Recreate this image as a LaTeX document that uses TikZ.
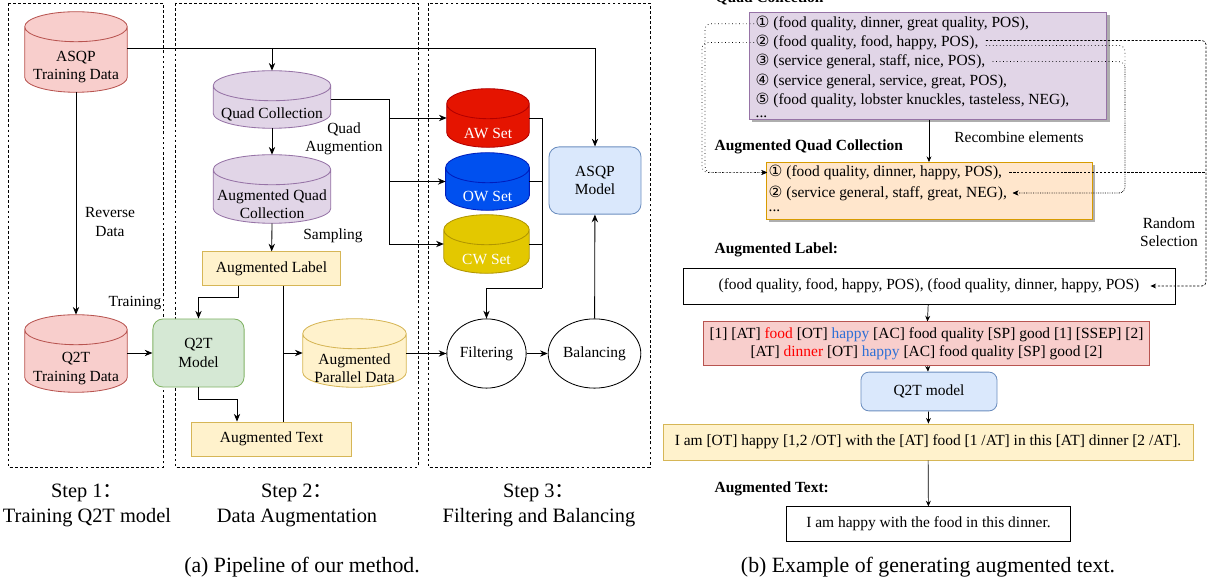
\documentclass[tikz,border=0pt]{standalone}
\usepackage{fontspec}
\setmainfont{Liberation Serif}
\newfontfamily\circfont{DejaVu Sans}
\newfontfamily\cjk{Noto Sans CJK SC}
\usetikzlibrary{arrows.meta,shapes.geometric,shadows,calc}

\definecolor{redfill}{HTML}{F8CECC}
\definecolor{redline}{HTML}{B85450}
\definecolor{purplefill}{HTML}{E1D5E7}
\definecolor{purpleline}{HTML}{9673A6}
\definecolor{yelfill}{HTML}{FFF2CC}
\definecolor{yelline}{HTML}{D6B656}
\definecolor{greenfill}{HTML}{D5E8D4}
\definecolor{greenline}{HTML}{82B366}
\definecolor{bluefill}{HTML}{DAE8FC}
\definecolor{blueline}{HTML}{6C8EBF}
\definecolor{orangefill}{HTML}{FFE6CC}
\definecolor{orangeline}{HTML}{D79B00}
\definecolor{awfill}{HTML}{E51400}
\definecolor{awline}{HTML}{B20000}
\definecolor{owfill}{HTML}{0050EF}
\definecolor{owline}{HTML}{001DBC}
\definecolor{cwfill}{HTML}{E3C800}
\definecolor{cwline}{HTML}{B09500}
\definecolor{optblue}{HTML}{2D6FD6}

\pgfdeclarelayer{background}
\pgfsetlayers{background,main}

\newcommand{\cnum}[1]{{\circfont #1}}
\newcommand{\stepcolon}{{\cjk ：}}
% cylinder drawn round a node that holds the body text
\newcommand{\dbcap}{0.375cm}
\newcommand{\drawdb}[3]{%
  \begin{pgfonlayer}{background}
    \path[fill=#2, draw=#3, line width=0.6pt]
      let \p1=(#1.north west), \p2=(#1.south east) in
      (\x1,{\y1+\dbcap}) -- (\x1,{\y2+\dbcap})
      arc[start angle=180, end angle=360, x radius={(\x2-\x1)/2}, y radius=\dbcap]
      -- (\x2,{\y1+\dbcap})
      arc[start angle=0, end angle=180, x radius={(\x2-\x1)/2}, y radius=\dbcap]
      -- cycle
      (\x1,{\y1+\dbcap})
      arc[start angle=180, end angle=360, x radius={(\x2-\x1)/2}, y radius=\dbcap];
  \end{pgfonlayer}}

\begin{document}
\begin{tikzpicture}[x=0.025cm, y=-0.025cm,
    >={Stealth[length=5.5pt,width=4.5pt]},
    every node/.style = {font=\fontsize{11}{13}\selectfont, inner sep=1pt},
    stepframe/.style  = {draw, dash pattern=on 2pt off 1.6pt, line width=0.6pt},
    db/.style         = {rectangle, align=center},
    setdb/.style      = {db, text=white},
    box/.style        = {rectangle, draw, line width=0.6pt, align=center},
    model/.style      = {box, rounded corners=0.25cm},
    stage/.style      = {ellipse, draw, line width=0.6pt},
    lbl/.style        = {align=center},
    conn/.style       = {line width=0.6pt, ->},
    steplbl/.style    = {align=center, font=\fontsize{14.5}{18}\selectfont},
    caption/.style    = {font=\fontsize{15.5}{18}\selectfont},
    hint/.style       = {anchor=west, font=\fontsize{11}{13}\selectfont\bfseries},
    qline/.style      = {anchor=west},
    dots/.style       = {anchor=west, text height=0.5ex, text depth=0pt},
    listbox/.style    = {rectangle, draw, line width=0.6pt, anchor=north west,
                         drop shadow={shadow xshift=2pt, shadow yshift=-2pt,
                         fill=black!45, opacity=0.7}},
    link/.style       = {dotted, line width=0.5pt, rounded corners=0.15cm,
                         -{Stealth[length=4pt,width=3.5pt]}},
    randlink/.style   = {dash pattern=on 1.6pt off 1.2pt, line width=0.5pt,
                         rounded corners=0.1cm},
    flow/.style       = {line width=0.5pt, -{Stealth[length=4pt,width=3.5pt]}},
  ]
  \useasboundingbox (0,0) rectangle (1211,583);
  % (a) frames of the three steps
  \draw[stepframe] (8,3) rectangle (163,467);
  \draw[stepframe] (175,3) rectangle (418,467);
  \draw[stepframe] (428,3) rectangle (650,467);
  % step 1
  \node[db, minimum width=2.55cm, minimum height=1.25cm]  (asqpdata) at (76,67)    {ASQP\\Training Data};
  \node[db, minimum width=2.55cm, minimum height=1.175cm] (q2tdata)  at (76,368.5) {Q2T\\Training Data};
  \drawdb{asqpdata}{redfill}{redline}
  \drawdb{q2tdata}{redfill}{redline}
  % step 2
  \node[db, minimum width=2.925cm, minimum height=0.675cm] (quads)    at (272,114.5) {Quad Collection};
  \node[db, minimum width=2.925cm, minimum height=0.95cm]  (augquads) at (272,204)   {Augmented Quad\\Collection};
  \drawdb{quads}{purplefill}{purpleline}
  \drawdb{augquads}{purplefill}{purpleline}
  \node[box, fill=yelfill, draw=yelline, minimum width=3.43cm, minimum height=0.83cm] (auglabel) at (271.5,268.5) {Augmented Label};
  \node[model, fill=greenfill, draw=greenline, minimum width=2.28cm, minimum height=1.7cm] (q2t) at (198.5,353) {Q2T\\Model};
  \node[box, fill=yelfill, draw=yelline, minimum width=3.98cm, minimum height=0.85cm] (augtext) at (271.5,439) {Augmented Text};
  \node[db, minimum width=2.575cm, minimum height=0.95cm] (augpar) at (354.5,368) {Augmented\\Parallel Data};
  \drawdb{augpar}{yelfill}{yelline}
  % step 3
  \node[setdb, minimum width=2.05cm, minimum height=0.7cm]   (awset) at (488,133)     {AW Set};
  \node[setdb, minimum width=2.08cm, minimum height=0.675cm] (owset) at (487.5,196.5) {OW Set};
  \node[setdb, minimum width=2.12cm, minimum height=0.7cm]   (cwset) at (486.5,259)   {CW Set};
  \drawdb{awset}{awfill}{awline}
  \drawdb{owset}{owfill}{owline}
  \drawdb{cwset}{cwfill}{cwline}
  \node[model, fill=bluefill, draw=blueline, minimum width=2.3cm, minimum height=1.68cm] (asqpmodel) at (595,180.5) {ASQP\\Model};
  \node[stage, minimum width=1.98cm, minimum height=1.73cm] (filter)  at (486.5,353.5) {Filtering};
  \node[stage, minimum width=1.93cm, minimum height=1.73cm] (balance) at (594.5,353.5) {Balancing};
  % labels on the edges
  \node[lbl] (revlbl)   at (110,222) {Reverse\\Data};
  \node[lbl] (trainlbl) at (135,303) {Training};
  \node[lbl] (auglbl)   at (344,139) {Quad\\Augmention};
  \node[lbl] (samplbl)  at (333,236) {Sampling};
  % bend points
  \coordinate (trunk) at (300,48);
  \coordinate (fork)  at (389,99);
  \coordinate (split) at (283,353);
  \coordinate (merge) at (542,288);
  \coordinate (drop1) at (238,297);
  \coordinate (drop2) at (237,399);
  \foreach \s in {awset,owset,cwset}{
    \coordinate (\s-in)  at ([yshift=\dbcap]\s.west);
    \coordinate (\s-out) at ([yshift=\dbcap]\s.east);
  }
  % edges of (a)
  \draw[conn] (asqpdata.east |- trunk) -| (asqpmodel.north);
  \draw[conn] (quads.north |- trunk) -- ([yshift=0.75cm]quads.north);
  \draw[conn] (asqpdata.south) -- ([yshift=0.75cm]q2tdata.north);
  \draw[conn] (q2tdata.east |- q2t.west) -- (q2t.west);
  \draw[conn] (quads.south) -- ([yshift=0.75cm]augquads.north);
  \draw[line width=0.6pt] (quads.east |- fork) -- (fork) -- (fork |- cwset-in);
  \foreach \s in {awset,owset,cwset}{\draw[conn] (fork |- \s-in) -- (\s-in);}
  \draw[conn] (augquads.south) -- (auglabel);
  \draw[conn] (drop1 |- auglabel.south) -- (drop1) -| (q2t.north);
  \draw[line width=0.6pt] (split |- auglabel.south) -- (split |- augtext.north);
  \draw[conn] (split) -- (split -| augpar.west);
  \draw[conn] (q2t.south) |- (drop2) -- (drop2 |- augtext.north);
  \draw[conn] (augpar.east |- filter.west) -- (filter.west);
  \foreach \s in {awset,owset,cwset}{\draw[line width=0.6pt] (\s-out) -| (merge);}
  \draw[conn] (merge) -| (filter.north);
  \draw[conn] (filter) -- (balance);
  \draw[conn] (balance) -- (asqpmodel);
  % step titles and caption
  \node[steplbl] (step1) at (87,505.5)  {Step 1\stepcolon\\Training Q2T model};
  \node[steplbl] (step2) at (297,505.5) {Step 2\stepcolon\\Data Augmentation};
  \node[steplbl] (step3) at (539,505.5) {Step 3\stepcolon\\Filtering and Balancing};
  \node[caption] (capa) at (302,567) {(a) Pipeline of our method.};

  % (b) quad collection
  \node[hint, anchor=base west] (quadhint) at (714,3) {Quad Collection};
  \node[listbox, fill=purplefill, draw=purpleline, minimum width=8.93cm, minimum height=2.68cm] (quadbox) at (749,12) {};
  \node[qline] (q1) at (754,23.7)  {\cnum{①} (food quality, dinner, great quality, POS),};
  \node[qline] (q2) at (754,42.6)  {\cnum{②} (food quality, food, happy, POS),};
  \node[qline] (q3) at (754,61.6)  {\cnum{③} (service general, staff, nice, POS),};
  \node[qline] (q4) at (754,81)    {\cnum{④} (service general, service, great, POS),};
  \node[qline] (q5) at (754,100.5) {\cnum{⑤} (food quality, lobster knuckles, tasteless, NEG),};
  \node[dots]  (q6) at (754,115.5) {...};
  % augmented quad collection
  \node[hint] (aughint) at (713,147) {Augmented Quad Collection};
  \node[lbl] (recomb) at (1019,137) {Recombine elements};
  \node[listbox, fill=orangefill, draw=orangeline, minimum width=8.15cm, minimum height=1.43cm] (augbox) at (766,162) {};
  \node[qline] (aq1) at (767,172.5) {\cnum{①} (food quality, dinner, happy, POS),};
  \node[qline] (aq2) at (767,193)   {\cnum{②} (service general, staff, great, NEG),};
  \node[dots]  (aq3) at (767,210)   {...};
  \node[lbl] (randlbl) at (1169,232) {Random\\Selection};
  % label, tagged label, model, outputs
  \node[hint] (labhint) at (713,250) {Augmented Label:};
  \node[box, minimum width=12.3cm, minimum height=0.9cm] (labelbox) at (929,286) {(food quality, food, happy, POS), (food quality, dinner, happy, POS)};
  \node[box, fill=redfill, draw=redline, minimum width=11.13cm, minimum height=1.08cm,
        font=\fontsize{11}{12.5}\selectfont] (tagbox) at (926.5,343.5)
        {[1] [AT] \textcolor{red}{food} [OT] \textcolor{optblue}{happy} [AC] food quality [SP] good [1] [SSEP] [2]\\\relax
         [AT] \textcolor{red}{dinner} [OT] \textcolor{optblue}{happy} [AC] food quality [SP] good [2]};
  \node[model, fill=bluefill, draw=blueline, rounded corners=0.2cm, minimum width=3.4cm, minimum height=0.97cm] (q2tmodel) at (929,391.5) {Q2T model};
  \node[box, fill=yelfill, draw=yelline, minimum width=13.25cm, minimum height=0.9cm] (genbox) at (928,442) {I am [OT] happy [1,2 /OT] with the [AT] food [1 /AT] in this [AT] dinner [2 /AT].};
  \node[hint] (texthint) at (713,489) {Augmented Text:};
  \node[box, minimum width=7.08cm, minimum height=0.86cm] (finalbox) at (928.5,524) {I am happy with the food in this dinner.};
  \node[caption] (capb) at (928,567) {(b) Example of generating augmented text.};
  % routing columns
  \coordinate (incol1) at (705,0);
  \coordinate (incol2) at (702,0);
  \coordinate (mixcol) at (1125,0);
  \coordinate (randcol) at (1206,0);
  % edges of (b)
  \draw[flow] (quadbox.south -| q2tmodel) -- (augbox.north -| q2tmodel);
  \draw[link] (q1.west) -| (incol1 |- aq1.west) -- (aq1.west);
  \draw[link] (q2.west) -| (incol2 |- aq1.west) -- (aq1.west);
  \draw[link] ([xshift=4pt,yshift=-2pt]q2.east) -| (mixcol |- aq2.east) -- ([xshift=3pt]aq2.east);
  \draw[link] ([xshift=4pt]q3.east) -| (mixcol |- aq2.east) -- ([xshift=3pt]aq2.east);
  \draw[randlink, -{Stealth[length=4pt,width=3.5pt]}] ([xshift=4pt,yshift=1.5pt]q2.east) -| (randcol |- labelbox.east) -- ([xshift=-0.625cm]labelbox.east);
  \draw[randlink] ([xshift=4pt]aq1.east) -- (randcol |- aq1.east);
  \draw[flow] (labelbox) -- (tagbox);
  \draw[flow] (tagbox) -- (q2tmodel);
  \draw[flow] (q2tmodel) -- (genbox);
  \draw[flow] (genbox) -- (finalbox);
\end{tikzpicture}
\end{document}
